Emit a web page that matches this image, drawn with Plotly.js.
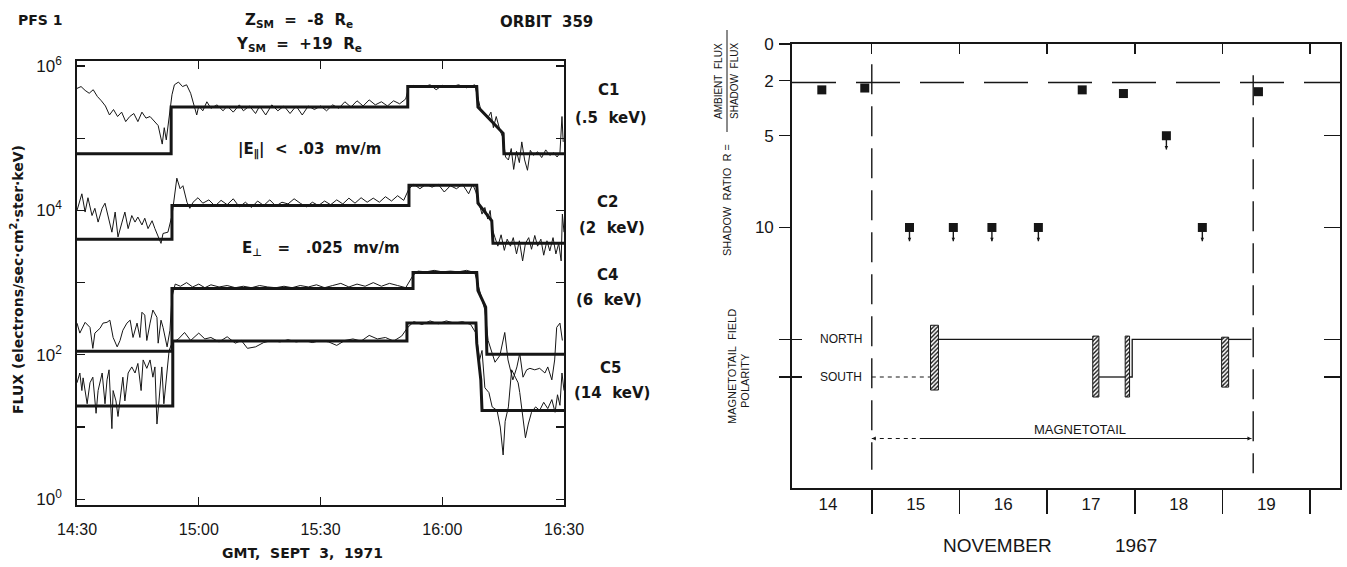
<!DOCTYPE html>
<html>
<head>
<meta charset="utf-8">
<script src="https://cdn.plot.ly/plotly-3.0.1.min.js"></script>
<style>
  html, body { margin: 0; padding: 0; background: #fff; }
  #chart { width: 1347px; height: 567px; }
</style>
</head>
<body>
<div id="chart"></div>
<script>
// ================= Left panel: PFS 1 electron flux, orbit 359 =================
// Time is in minutes after 14:30 GMT, 3 Sept 1971.
const timeTickVals = [0, 30, 60, 90, 120];
const timeTickText = ['14:30', '15:00', '15:30', '16:00', '16:30'];
const fluxTickVals = [1, 100, 1e4, 1e6];
const fluxTickText = ['10<sup>0</sup>', '10<sup>2</sup>', '10<sup>4</sup>', '10<sup>6</sup>'];
const fluxMinorTicks = [10, 1e3, 1e5];

// Fitted step levels (heavy lines)
const c1StepT = [0, 23.2, 23.2, 81.5, 81.5, 98.5, 98.8, 105, 105.2, 120];
const c1StepF = [6.1e4, 6.1e4, 2.7e5, 2.7e5, 5.2e5, 5.2e5, 2.7e5, 1.17e5, 6.1e4, 6.1e4];
const c2StepT = [0, 23.4, 23.4, 81.8, 81.8, 98.5, 98.8, 102.2, 102.5, 120];
const c2StepF = [4.0e3, 4.0e3, 1.17e4, 1.17e4, 2.24e4, 2.24e4, 1.26e4, 7.2e3, 3.5e3, 3.5e3];
const c4StepT = [0, 23.4, 23.4, 82.8, 82.8, 98.5, 98.8, 99.8, 100.7, 101.0, 120];
const c4StepF = [112, 112, 832, 832, 1380, 1380, 776, 575, 457, 102, 102];
const c5StepT = [0, 23.6, 23.6, 81.3, 81.3, 98.3, 98.5, 99.5, 99.8, 120];
const c5StepF = [19.5, 19.5, 155, 155, 275, 275, 145, 45, 17, 17];

// Measured flux (light lines)
const c1T = [0,1,2,3,4,5,6,7,8,9,10,11,12,13,14,15,16,17,18,19,20,21,21.5,22,22.6,23.4,24,25,26,27,28,28.8,29.5,30,31,32,33,34.5,36,37,38.5,40,41,42.5,44,45,46.5,48,49.5,51,52.5,54,55.5,57,58.5,60,61.5,63,64.5,66,67.5,69,70.5,72,73.5,75,76.5,78,79.5,81,81.7,83,85,87,88.5,90,92,94,96,98,98.7,99.4,100.3,101.2,102,102.6,103.3,104.2,105,105.6,106.3,107,107.6,108.3,109,109.6,110.3,111,111.7,112.5,113.5,114.5,115.5,116.5,117.5,118.3,119,119.5,119.8];
const c1F = [4.9e5,5.2e5,4.6e5,4.2e5,4.7e5,3.8e5,3.3e5,2.8e5,2.1e5,2.5e5,2.0e5,2.3e5,1.7e5,2.0e5,2.2e5,1.7e5,2.3e5,1.9e5,2.0e5,1.7e5,1.5e5,8.3e4,1.4e5,9.5e4,1.8e5,4.0e5,5.5e5,6.0e5,5.2e5,5.5e5,4.2e5,3.0e5,2.1e5,2.8e5,2.4e5,3.2e5,2.6e5,2.9e5,2.4e5,2.8e5,2.3e5,2.9e5,2.4e5,2.8e5,2.2e5,2.8e5,2.1e5,2.9e5,2.4e5,2.8e5,2.2e5,2.8e5,2.1e5,2.8e5,2.5e5,2.8e5,2.4e5,2.9e5,2.6e5,3.2e5,2.7e5,3.3e5,2.8e5,3.4e5,2.9e5,3.2e5,2.8e5,3.3e5,3.0e5,3.5e5,5.0e5,5.4e5,5.1e5,5.5e5,4.7e5,5.4e5,5.1e5,5.5e5,5.0e5,5.5e5,3.8e5,2.6e5,2.2e5,1.9e5,2.3e5,1.4e5,2.0e5,1.3e5,1.0e5,5.5e4,5.0e4,7.2e4,3.7e4,6.6e4,4.6e4,8.9e4,5.0e4,3.6e4,6.8e4,5.8e4,6.5e4,5.4e4,6.9e4,5.8e4,6.3e4,5.5e4,6.3e4,2.0e5,8.9e4];

const c2T = [0,1.2,2.0,2.7,3.7,4.4,5.2,6.2,6.9,7.6,8.6,9.4,10.1,11.1,11.8,12.6,13.5,14.3,15.0,16.0,16.7,17.5,18.5,19.2,20.0,20.7,21.2,22.4,23.4,24.1,24.6,25.4,26.1,27.1,27.8,28.6,29.8,31.0,32.5,34,35.5,37,38.5,40,41.5,43,44.5,46,47.5,49,50.5,52,53.5,55,56.5,58,59.5,61,62.5,64,65.5,67,68.5,70,71.5,73,74.5,76,77.5,79,80.5,81.8,83,84.5,86,87.5,89,90.5,92,93.5,95,96.5,97.5,98.3,99,99.8,100.5,101.2,101.8,102.3,103,103.7,104.5,105.3,106,106.8,107.5,108.3,109,109.8,110.5,111.3,112,112.8,113.5,114.3,115,115.8,116.5,117.3,118,118.7,119.3,119.6,120];
const c2F = [1.0e4,1.7e4,9.5e3,1.5e4,8.5e3,1.07e4,6.9e3,1.07e4,1.26e4,8.5e3,5.0e3,9.5e3,4.3e3,6.9e3,9.5e3,5.6e3,8.5e3,6.9e3,8.1e3,6.3e3,7.8e3,5.6e3,7.2e3,5.6e3,4.3e3,3.5e3,4.8e3,5.0e3,8.5e3,1.6e4,2.8e4,2.0e4,2.2e4,1.3e4,1.07e4,1.3e4,1.5e4,1.26e4,1.4e4,1.15e4,1.38e4,1.2e4,1.45e4,1.12e4,1.3e4,1.1e4,1.35e4,1.17e4,1.4e4,1.15e4,1.3e4,1.23e4,1.45e4,1.26e4,1.12e4,1.3e4,1.17e4,1.35e4,1.2e4,1.4e4,1.23e4,1.48e4,1.26e4,1.5e4,1.3e4,1.48e4,1.3e4,1.55e4,1.35e4,1.6e4,1.38e4,2.0e4,2.3e4,2.0e4,2.3e4,2.1e4,2.3e4,1.8e4,2.2e4,2.0e4,2.3e4,1.7e4,2.3e4,1.8e4,1.26e4,8.9e3,1.1e4,7.6e3,1.0e4,5.6e3,4.2e3,3.2e3,4.6e3,2.8e3,4.0e3,3.2e3,4.2e3,2.5e3,3.8e3,2.0e3,3.5e3,4.2e3,2.9e3,4.5e3,3.2e3,4.0e3,2.4e3,3.8e3,2.75e3,4.2e3,2.5e3,3.5e3,2.0e3,8.9e3,5.0e3];

const c4T = [0,0.7,2.0,3.2,3.9,4.4,5.7,6.4,7.4,8.1,8.9,9.9,10.6,11.3,12.3,13.1,13.8,14.8,15.5,16.0,16.7,17.2,18.0,18.7,19.7,20.0,20.7,21.2,22.2,22.9,23.4,24.2,25.5,27,28.5,30,31.5,33,35,37,39,41,43,45,47,49,51,53,55,57,59,61,63,65,67,69,71,73,75,77,79,81,82.8,84,86,88,90,92,94,96,98,98.7,99.5,100.5,101.3,102.2,103.0,104.2,105.4,106.2,107.4,108.4,109.1,109.9,110.8,111.6,112.8,114.0,115.3,116.0,117.0,117.7,118.2,119.0,119.6];
const c4F = [275,200,282,240,123,200,234,275,282,302,174,129,158,219,275,302,174,275,174,389,355,158,275,417,331,145,302,240,129,219,631,955,891,1000,871,955,851,933,871,912,851,891,851,912,871,851,891,851,912,871,933,851,912,977,871,955,891,1000,891,977,912,851,1259,1445,1413,1479,1413,1445,1413,1479,1380,1000,708,417,158,112,79,98,204,85,45,68,105,49,62,65,62,65,56,68,45,85,240,275,158];

const c5T = [0,0.7,1.2,1.5,2.5,3.2,3.9,4.7,5.2,6.2,6.9,7.4,7.9,8.6,8.9,9.6,10.1,10.8,11.3,11.8,12.6,13.5,14.3,15.0,15.8,16.3,17.2,18.0,18.7,19.2,19.7,20.2,20.9,21.4,22.2,22.7,23.4,25,26.5,28,30,31.5,33,35,37,39,40.5,42,44,46,48,50,52,54,56,58,60,62,64,66,68,70,72,74,76,78,80,81.5,83,85,87,89,91,93,95,97,98.3,98.8,99.2,99.8,100.5,101.5,102.3,103.5,104.3,105.0,105.5,106.3,107.1,108,108.7,109.1,109.8,110.5,111.2,112,113,114,115,116,117,117.8,118.4,119,119.5,120];
const c5F = [41,56,32,48,21,41,49,15.5,32,56,21,45,62,9.5,32,23,14,32,49,23,56,68,56,76,32,85,65,85,49,68,11,23,68,21,56,115,145,166,204,158,200,166,174,151,178,145,158,123,129,148,158,151,162,151,158,148,158,151,135,158,166,155,186,166,174,155,182,240,288,263,295,269,295,275,288,263,200,129,85,115,35,30,19,17,10,4.1,12,19,62,49,41,30,15.5,7.1,11,16,19,17,22,18,24,16,28,20,56,32];

// ================= Right panel: shadow ratio, November 1967 =================
const dayLabels = ['14', '15', '16', '17', '18', '19'];
const dayLabelPos = [14.5, 15.5, 16.5, 17.5, 18.5, 19.5];
const dayBoundaries = [15, 16, 17, 18, 19, 20];
const ratioTicks = [0, 2, 5, 10];
const NORTH = 16.1, SOUTH = 18.15;          // levels of the polarity band

const ratioDay = [14.43, 14.92, 17.40, 17.87, 19.41];
const ratioR = [2.5, 2.4, 2.5, 2.7, 2.6];
const limitDay = [15.43, 15.93, 16.37, 16.90, 18.36, 18.77];   // lower limits (R greater than)
const limitR = [10, 10, 10, 10, 5, 10];
const unityR = 2.1;
const tailEntry = 15.0, tailExit = 19.35;

// Field polarity history and transition intervals (hatched)
const polDashDay = [15.0, 15.67];
const polDashLvl = [SOUTH, SOUTH];
const polDay = [15.76, 17.52, null, 17.59, 17.89, null, 17.94, 17.97, 17.97, 18.99, null, 19.07, 19.33];
const polLvl = [NORTH, NORTH, null, SOUTH, SOUTH, null, SOUTH, SOUTH, NORTH, NORTH, null, NORTH, NORTH];
const transDay = [15.715, 17.555, 17.915, 19.03];
const transWidth = [0.09, 0.07, 0.05, 0.08];
const transTop = [15.33, 15.92, 15.92, 15.98];
const transBottom = [18.86, 19.24, 19.24, 18.7];

// ---------------------------------------------------------------------------
const W = 1347, H = 567;
const INK = '#161616';
const FONT = 'Liberation Sans, Arial, sans-serif';
const BOLD = 'DejaVu Sans, Liberation Sans, sans-serif';
const LIMIT_STEM = 0.75;   // length of the "greater than" arrow, in ratio units
const TAIL_R = 21.5;       // height of the magnetotail interval bar

const thin = (x, y) => ({ x, y, type: 'scatter', mode: 'lines', xaxis: 'x', yaxis: 'y',
  line: { color: INK, width: 1 }, hoverinfo: 'skip' });
const heavy = (x, y) => ({ x, y, type: 'scatter', mode: 'lines', xaxis: 'x', yaxis: 'y',
  line: { color: INK, width: 3 }, hoverinfo: 'skip' });
const r2 = (o) => Object.assign({ type: 'scatter', xaxis: 'x2', yaxis: 'y2', hoverinfo: 'skip' }, o);

const traces = [
  thin(c1T, c1F), thin(c2T, c2F), thin(c4T, c4F), thin(c5T, c5F),
  heavy(c1StepT, c1StepF), heavy(c2StepT, c2StepF), heavy(c4StepT, c4StepF), heavy(c5StepT, c5StepF),
  // right panel
  r2({ x: [14.09, 20.34], y: [unityR, unityR], mode: 'lines',
    line: { color: INK, width: 1.4, dash: '44px,20px' } }),
  r2({ x: [tailEntry, tailEntry], y: [1.1, 23.2], mode: 'lines',
    line: { color: INK, width: 1.4, dash: '30px,12px' } }),
  r2({ x: [tailExit, tailExit], y: [1.7, 23.4], mode: 'lines',
    line: { color: INK, width: 1.4, dash: '30px,12px' } }),
  r2({ x: polDashDay, y: polDashLvl, mode: 'lines', line: { color: INK, width: 1.2, dash: '4px,4px' } }),
  r2({ x: polDay, y: polLvl, mode: 'lines', connectgaps: false, line: { color: INK, width: 1.3 } }),
  // magnetotail interval with arrowheads at both ends
  r2({ x: [tailEntry, 15.55], y: [TAIL_R, TAIL_R], mode: 'lines',
    line: { color: INK, width: 1.1, dash: '4px,4px' } }),
  r2({ x: [15.55, tailExit - 0.02], y: [TAIL_R, TAIL_R], mode: 'lines', line: { color: INK, width: 1.1 } }),
  r2({ x: [tailEntry, tailExit - 0.02], y: [TAIL_R, TAIL_R], mode: 'markers',
    marker: { symbol: ['arrow-left', 'arrow-right'], size: 4, color: INK } }),
  {
    x: transDay, y: transBottom.map((b, i) => b - transTop[i]), base: transTop, width: transWidth,
    type: 'bar', xaxis: 'x2', yaxis: 'y2', hoverinfo: 'skip',
    marker: { color: '#fff', line: { color: INK, width: 1 },
      pattern: { shape: '/', fgcolor: INK, bgcolor: '#fff', size: 3, solidity: 0.45 } }
  },
  r2({ x: ratioDay, y: ratioR, mode: 'markers', marker: { symbol: 'square', size: 9, color: INK } }),
  // lower limits: square with a downward arrow
  r2({ x: limitDay, y: limitR, mode: 'markers', marker: { symbol: 'square', size: 9, color: INK },
    error_y: { type: 'data', symmetric: false, array: limitR.map(() => LIMIT_STEM),
      arrayminus: limitR.map(() => 0), width: 0, thickness: 1.4, color: INK } }),
  r2({ x: limitDay, y: limitR.map(r => r + LIMIT_STEM), mode: 'markers',
    marker: { symbol: 'arrow-down', size: 3.5, color: INK } }),
  // carriers for the extra tick axes
  { x: [], y: [], type: 'scatter', xaxis: 'x3', yaxis: 'y3' },
  { x: [], y: [], type: 'scatter', xaxis: 'x3', yaxis: 'y4' }
];

const txt = (text, x, y, size, opts = {}, family = FONT) => Object.assign({
  text, x: x / W, y: 1 - y / H, xref: 'paper', yref: 'paper', showarrow: false,
  xanchor: 'center', yanchor: 'middle', font: { family, size, color: INK }
}, opts);
const btxt = (text, x, y, size, opts = {}) => txt('<b>' + text + '</b>', x, y, size, opts, BOLD);

const annotations = [
  btxt('PFS 1', 40, 20, 14),
  btxt('Z<sub>SM</sub>&nbsp; = &nbsp;-8&nbsp; R<sub>e</sub>', 299, 21, 15),
  btxt('Y<sub>SM</sub>&nbsp; = &nbsp;+19&nbsp; R<sub>e</sub>', 299, 45, 15),
  btxt('ORBIT&nbsp; 359', 546, 22, 15),
  btxt('C1', 608, 90, 15), btxt('(.5&nbsp; keV)', 611, 118, 15),
  btxt('C2', 607, 202, 15), btxt('(2&nbsp; keV)', 612, 228, 15),
  btxt('C4', 607, 275, 15), btxt('(6&nbsp; keV)', 609, 300, 15),
  btxt('C5', 610, 368, 15), btxt('(14&nbsp; keV)', 612, 393, 15),
  btxt('|E<sub>∥</sub>|&nbsp; &lt; &nbsp;.03&nbsp; mv/m', 309, 150, 15),
  btxt('E<sub>⊥</sub>&nbsp; &nbsp;= &nbsp; .025&nbsp; mv/m', 321, 248, 15),
  btxt('FLUX (electrons/sec·cm<sup>2</sup>·ster·keV)', 17, 280, 14, { textangle: -90 }),
  btxt('GMT,&nbsp; SEPT&nbsp; 3,&nbsp; 1971', 302, 553, 14),
  // right panel titles
  txt('SHADOW&nbsp; RATIO&nbsp; R =', 727, 200, 11, { textangle: -90 }),
  txt('AMBIENT&nbsp; FLUX', 719, 81, 10, { textangle: -90 }),
  txt('SHADOW&nbsp; FLUX', 735, 81, 10, { textangle: -90 }),
  txt('MAGNETOTAIL&nbsp; FIELD', 732, 367, 11, { textangle: -90 }),
  txt('POLARITY', 745, 381, 11, { textangle: -90 }),
  txt('NOVEMBER', 997, 545, 19),
  txt('1967', 1136, 545, 19),
  { text: 'NORTH', x: 14.65, y: NORTH, xref: 'x2', yref: 'y2', showarrow: false,
    font: { family: FONT, size: 12, color: INK } },
  { text: 'SOUTH', x: 14.65, y: SOUTH, xref: 'x2', yref: 'y2', showarrow: false,
    font: { family: FONT, size: 12, color: INK } },
  { text: 'MAGNETOTAIL', x: 17.38, y: TAIL_R, xref: 'x2', yref: 'y2', showarrow: false, yshift: 9,
    font: { family: FONT, size: 13, color: INK } }
];

const layout = {
  width: W, height: H,
  margin: { l: 0, r: 0, t: 0, b: 0 },
  paper_bgcolor: '#fff', plot_bgcolor: 'rgba(0,0,0,0)',
  showlegend: false,
  font: { family: FONT, color: INK },
  xaxis: {
    domain: [77 / W, 564 / W], anchor: 'y', range: [0, 120],
    tickmode: 'array', tickvals: timeTickVals, ticktext: timeTickText,
    ticks: 'inside', ticklen: 8, tickwidth: 1.3, tickcolor: INK, ticklabelstandoff: 9,
    showline: true, linecolor: INK, linewidth: 1.8, mirror: 'ticks',
    showgrid: false, zeroline: false, tickfont: { family: FONT, size: 16, color: INK }
  },
  yaxis: {
    domain: [1 - 505 / H, 1 - 61 / H], anchor: 'x', type: 'log', range: [-0.08, 6.07],
    tickmode: 'array', tickvals: fluxTickVals, ticktext: fluxTickText,
    ticks: 'inside', ticklen: 8, tickwidth: 1.3, tickcolor: INK, ticklabelstandoff: 10,
    minor: { tickmode: 'array', tickvals: fluxMinorTicks, ticks: 'inside', ticklen: 8,
      tickwidth: 1.3, tickcolor: INK, showgrid: false },
    showline: true, linecolor: INK, linewidth: 1.8, mirror: 'ticks',
    showgrid: false, zeroline: false, tickfont: { family: FONT, size: 17, color: INK }
  },
  xaxis2: {
    domain: [792 / W, 1340 / W], anchor: 'y2', range: [14.09, 20.34],
    tickmode: 'array', tickvals: dayLabelPos, ticktext: dayLabels,
    ticks: 'outside', ticklen: 0, ticklabelstandoff: 0,
    minor: { tickmode: 'array', tickvals: dayBoundaries, ticks: 'outside', ticklen: 24,
      tickwidth: 1.5, tickcolor: INK, showgrid: false },
    showline: true, linecolor: INK, linewidth: 1.8, mirror: true,
    showgrid: false, zeroline: false, tickfont: { family: FONT, size: 17, color: INK }
  },
  yaxis2: {
    domain: [1 - 488 / H, 1 - 44 / H], anchor: 'x2', range: [24.2, 0], autorange: false,
    tickmode: 'array', tickvals: ratioTicks, ticktext: ratioTicks.map(String),
    ticks: 'outside', ticklen: 11, tickwidth: 1.3, tickcolor: INK, ticklabelstandoff: 2,
    minor: { tickmode: 'array', tickvals: [NORTH, SOUTH], ticks: 'outside', ticklen: 11,
      tickwidth: 1.3, tickcolor: INK, showgrid: false },
    showline: true, linecolor: INK, linewidth: 1.8, mirror: true,
    showgrid: false, zeroline: false, tickfont: { family: FONT, size: 17, color: INK }
  },
  xaxis3: {
    overlaying: 'x2', anchor: 'y2', side: 'top', range: [14.09, 20.34],
    tickmode: 'array', tickvals: dayBoundaries, ticks: 'inside', ticklen: 10, tickwidth: 1.4,
    tickcolor: INK, showticklabels: false, showline: false, showgrid: false, zeroline: false
  },
  yaxis3: {
    overlaying: 'y2', anchor: 'x2', side: 'left', range: [24.2, 0], autorange: false,
    tickmode: 'array', tickvals: [NORTH, SOUTH], ticks: 'inside', ticklen: 10, tickwidth: 1.3,
    tickcolor: INK, showticklabels: false, showline: false, showgrid: false, zeroline: false
  },
  yaxis4: {
    overlaying: 'y2', anchor: 'x2', side: 'right', range: [24.2, 0], autorange: false,
    tickmode: 'array', tickvals: [5, 10, NORTH, SOUTH], ticks: 'inside', ticklen: 16, tickwidth: 1.4,
    tickcolor: INK, showticklabels: false, showline: false, showgrid: false, zeroline: false
  },
  shapes: [
    // fraction bar of the ratio definition
    { type: 'line', xref: 'paper', yref: 'paper', x0: 727 / W, x1: 727 / W,
      y0: 1 - 30 / H, y1: 1 - 132 / H, line: { color: INK, width: 1 } }
  ],
  annotations
};

Plotly.newPlot('chart', traces, layout, { staticPlot: true, displayModeBar: false });
</script>
</body>
</html>
